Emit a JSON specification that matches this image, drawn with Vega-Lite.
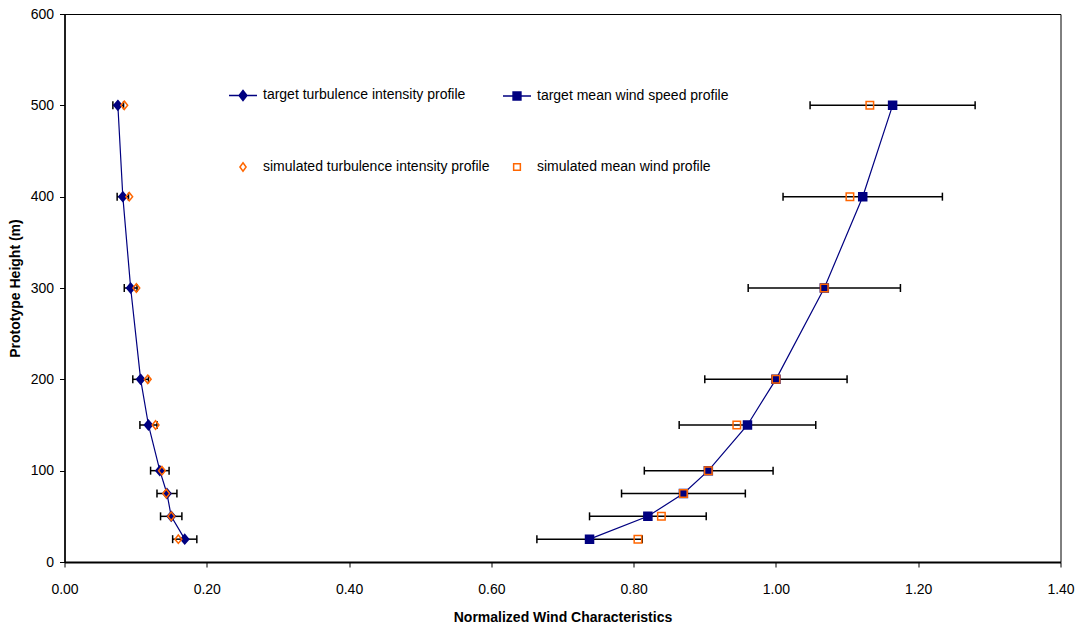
{
  "$schema": "https://vega.github.io/schema/vega-lite/v6.json",
  "width": 996,
  "height": 548,
  "autosize": {"type": "none"},
  "padding": {"left": 64.5, "top": 14, "right": 21.5, "bottom": 69},
  "background": "white",
  "config": {
    "view": {"stroke": "#000", "strokeWidth": 1},
    "font": "Liberation Sans",
    "axis": {
      "labelFont": "Liberation Sans", "labelFontSize": 14, "labelColor": "#000", "labelFlush": false,
      "titleFont": "Liberation Sans", "titleFontSize": 14, "titleFontWeight": "bold", "titleColor": "#000",
      "domainColor": "#000", "domainWidth": 1.5, "tickColor": "#000", "tickWidth": 1, "tickSize": 5, "grid": false
    }
  },
  "datasets": {
    "pts": [
      {"h": 25, "value": 0.169, "series": "target turbulence intensity profile"},
      {"h": 50, "value": 0.150, "series": "target turbulence intensity profile"},
      {"h": 75, "value": 0.144, "series": "target turbulence intensity profile"},
      {"h": 100, "value": 0.134, "series": "target turbulence intensity profile"},
      {"h": 150, "value": 0.118, "series": "target turbulence intensity profile"},
      {"h": 200, "value": 0.107, "series": "target turbulence intensity profile"},
      {"h": 300, "value": 0.093, "series": "target turbulence intensity profile"},
      {"h": 400, "value": 0.082, "series": "target turbulence intensity profile"},
      {"h": 500, "value": 0.075, "series": "target turbulence intensity profile"},
      {"h": 25, "value": 0.738, "series": "target mean wind speed profile"},
      {"h": 50, "value": 0.820, "series": "target mean wind speed profile"},
      {"h": 75, "value": 0.870, "series": "target mean wind speed profile"},
      {"h": 100, "value": 0.905, "series": "target mean wind speed profile"},
      {"h": 150, "value": 0.960, "series": "target mean wind speed profile"},
      {"h": 200, "value": 1.000, "series": "target mean wind speed profile"},
      {"h": 300, "value": 1.068, "series": "target mean wind speed profile"},
      {"h": 400, "value": 1.122, "series": "target mean wind speed profile"},
      {"h": 500, "value": 1.164, "series": "target mean wind speed profile"},
      {"h": 25, "value": 0.160, "series": "simulated turbulence intensity profile"},
      {"h": 50, "value": 0.150, "series": "simulated turbulence intensity profile"},
      {"h": 75, "value": 0.143, "series": "simulated turbulence intensity profile"},
      {"h": 100, "value": 0.137, "series": "simulated turbulence intensity profile"},
      {"h": 150, "value": 0.128, "series": "simulated turbulence intensity profile"},
      {"h": 200, "value": 0.117, "series": "simulated turbulence intensity profile"},
      {"h": 300, "value": 0.101, "series": "simulated turbulence intensity profile"},
      {"h": 400, "value": 0.091, "series": "simulated turbulence intensity profile"},
      {"h": 500, "value": 0.084, "series": "simulated turbulence intensity profile"},
      {"h": 25, "value": 0.806, "series": "simulated mean wind profile"},
      {"h": 50, "value": 0.839, "series": "simulated mean wind profile"},
      {"h": 75, "value": 0.870, "series": "simulated mean wind profile"},
      {"h": 100, "value": 0.905, "series": "simulated mean wind profile"},
      {"h": 150, "value": 0.945, "series": "simulated mean wind profile"},
      {"h": 200, "value": 1.000, "series": "simulated mean wind profile"},
      {"h": 300, "value": 1.068, "series": "simulated mean wind profile"},
      {"h": 400, "value": 1.104, "series": "simulated mean wind profile"},
      {"h": 500, "value": 1.132, "series": "simulated mean wind profile"}
    ],
    "err": [
      {"h": 25, "lo": 0.152, "hi": 0.186},
      {"h": 50, "lo": 0.135, "hi": 0.165},
      {"h": 75, "lo": 0.130, "hi": 0.158},
      {"h": 100, "lo": 0.121, "hi": 0.147},
      {"h": 150, "lo": 0.106, "hi": 0.130},
      {"h": 200, "lo": 0.096, "hi": 0.118},
      {"h": 300, "lo": 0.084, "hi": 0.102},
      {"h": 400, "lo": 0.074, "hi": 0.090},
      {"h": 500, "lo": 0.068, "hi": 0.083},
      {"h": 25, "lo": 0.664, "hi": 0.812},
      {"h": 50, "lo": 0.738, "hi": 0.902},
      {"h": 75, "lo": 0.783, "hi": 0.957},
      {"h": 100, "lo": 0.815, "hi": 0.996},
      {"h": 150, "lo": 0.864, "hi": 1.056},
      {"h": 200, "lo": 0.900, "hi": 1.100},
      {"h": 300, "lo": 0.961, "hi": 1.175},
      {"h": 400, "lo": 1.010, "hi": 1.234},
      {"h": 500, "lo": 1.048, "hi": 1.280}
    ]
  },
  "layer": [
    {
      "data": {"name": "pts"},
      "transform": [{"filter": "indexof(datum.series, 'target') === 0"}],
      "mark": {"type": "line", "strokeWidth": 1.2},
      "encoding": {
        "x": {"field": "value", "type": "quantitative", "scale": {"domain": [0, 1.4], "nice": false},
              "axis": {"title": "Normalized Wind Characteristics", "values": [0, 0.2, 0.4, 0.6, 0.8, 1.0, 1.2, 1.4], "format": ".2f", "labelPadding": 15, "titlePadding": 14, "domainWidth": 2}},
        "y": {"field": "h", "type": "quantitative", "scale": {"domain": [0, 600], "nice": false},
              "axis": {"title": "Prototype Height (m)", "values": [0, 100, 200, 300, 400, 500, 600], "labelPadding": 6, "titlePadding": 8}},
        "stroke": {"field": "series", "type": "nominal",
                   "scale": {"domain": ["target turbulence intensity profile", "target mean wind speed profile", "simulated turbulence intensity profile", "simulated mean wind profile"],
                             "range": ["#000080", "#000080", "#FF6600", "#FF6600"]},
                   "legend": {
                     "orient": "none", "legendX": 163.5, "legendY": 66, "direction": "horizontal", "columns": 2,
                     "title": null, "padding": 0, "rowPadding": 48, "columnPadding": 10,
                     "symbolSize": 784, "labelOffset": 5, "labelFont": "Liberation Sans", "labelFontSize": 14,
                     "labelColor": "#000", "labelLimit": 400, "symbolStrokeWidth": 1.5,
                     "encode": {
                       "symbols": {
                         "update": {
                           "shape": {"signal": "datum.value === 'target turbulence intensity profile' ? 'M-1,0L1,0M0,-0.36L0.28,0L0,0.36L-0.28,0Z' : datum.value === 'target mean wind speed profile' ? 'M-1,0L1,0M-0.28,-0.28L0.28,-0.28L0.28,0.28L-0.28,0.28Z' : datum.value === 'simulated turbulence intensity profile' ? 'M0,-0.3L0.22,0L0,0.3L-0.22,0Z' : 'M-0.24,-0.24L0.24,-0.24L0.24,0.24L-0.24,0.24Z'"},
                           "fill": {"signal": "indexof(datum.value, 'target') === 0 ? '#000080' : 'transparent'"},
                           "size": {"value": 784},
                           "strokeWidth": {"value": 1.5},
                           "opacity": {"value": 1}
                         }
                       }
                     }
                   }},
        "detail": {"field": "series"},
        "order": {"field": "h", "type": "quantitative"}
      }
    },
    {
      "data": {"name": "err"},
      "mark": {"type": "rule", "color": "#000", "strokeWidth": 1.5},
      "encoding": {
        "x": {"field": "lo", "type": "quantitative"},
        "x2": {"field": "hi"},
        "y": {"field": "h", "type": "quantitative"}
      }
    },
    {
      "data": {"name": "err"},
      "mark": {"type": "point", "shape": "M0,-1L0,1", "size": 64, "filled": false, "stroke": "#000", "strokeWidth": 1.5, "opacity": 1},
      "encoding": {
        "x": {"field": "lo", "type": "quantitative"},
        "y": {"field": "h", "type": "quantitative"}
      }
    },
    {
      "data": {"name": "err"},
      "mark": {"type": "point", "shape": "M0,-1L0,1", "size": 64, "filled": false, "stroke": "#000", "strokeWidth": 1.5, "opacity": 1},
      "encoding": {
        "x": {"field": "hi", "type": "quantitative"},
        "y": {"field": "h", "type": "quantitative"}
      }
    },
    {
      "data": {"name": "pts"},
      "transform": [{"filter": "datum.series === 'target turbulence intensity profile'"}],
      "mark": {"type": "point", "shape": "M0,-1L0.85,0L0,1L-0.85,0Z", "size": 90, "fill": "#000080", "stroke": "#000080", "strokeWidth": 1.5, "opacity": 1},
      "encoding": {
        "x": {"field": "value", "type": "quantitative"},
        "y": {"field": "h", "type": "quantitative"}
      }
    },
    {
      "data": {"name": "pts"},
      "transform": [{"filter": "datum.series === 'target mean wind speed profile'"}],
      "mark": {"type": "point", "shape": "square", "size": 64, "fill": "#000080", "stroke": "#000080", "strokeWidth": 1.5, "opacity": 1},
      "encoding": {
        "x": {"field": "value", "type": "quantitative"},
        "y": {"field": "h", "type": "quantitative"}
      }
    },
    {
      "data": {"name": "pts"},
      "transform": [{"filter": "datum.series === 'simulated turbulence intensity profile'"}],
      "mark": {"type": "point", "shape": "M0,-1L0.8,0L0,1L-0.8,0Z", "size": 72, "fill": "transparent", "stroke": "#FF6600", "strokeWidth": 1.5, "opacity": 1},
      "encoding": {
        "x": {"field": "value", "type": "quantitative"},
        "y": {"field": "h", "type": "quantitative"}
      }
    },
    {
      "data": {"name": "pts"},
      "transform": [{"filter": "datum.series === 'simulated mean wind profile'"}],
      "mark": {"type": "point", "shape": "square", "size": 56, "fill": "transparent", "stroke": "#FF6600", "strokeWidth": 1.5, "opacity": 1},
      "encoding": {
        "x": {"field": "value", "type": "quantitative"},
        "y": {"field": "h", "type": "quantitative"}
      }
    }
  ]
}
